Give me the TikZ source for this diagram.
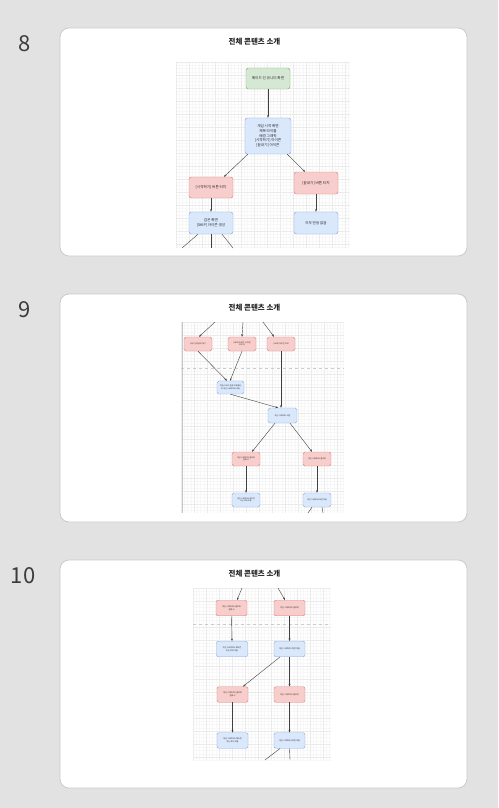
\documentclass[tikz,border=0pt]{standalone}
\usepackage{fontspec}
\setmainfont{Noto Sans CJK KR}
\usetikzlibrary{arrows.meta}
\definecolor{bg}{HTML}{E1E2E1}
\definecolor{cardline}{HTML}{CBCBCB}
\definecolor{gfill}{HTML}{D5E8D4}
\definecolor{gdraw}{HTML}{82B366}
\definecolor{bfill}{HTML}{DAE8FC}
\definecolor{bdraw}{HTML}{8EAEDC}
\definecolor{rfill}{HTML}{F8CECC}
\definecolor{rdraw}{HTML}{D98582}
\definecolor{gmin}{HTML}{F7F7F7}
\definecolor{gmaj}{HTML}{EBEBEB}
\definecolor{numcol}{HTML}{3C3C3C}
\tikzset{
 base/.style={draw, rounded corners=2.5pt, align=center, inner sep=0pt, line width=0.45pt, text=black!85},
 gnode/.style={base, fill=gfill, draw=gdraw},
 bnode/.style={base, fill=bfill, draw=bdraw},
 rnode/.style={base, fill=rfill, draw=rdraw},
 big/.style={minimum width=44pt, minimum height=21pt, font=\fontsize{3.6}{4.6}\selectfont},
 small/.style={minimum width=28pt, minimum height=14pt, font=\fontsize{1.9}{2.5}\selectfont, rounded corners=1.8pt},
 mid/.style={minimum width=31pt, minimum height=15.5pt, font=\fontsize{2}{2.6}\selectfont, rounded corners=2pt},
 arr/.style={-{Stealth[length=2.6pt,width=2pt]}, line width=0.4pt, draw=black!75},
 lnk/.style={line width=0.4pt, draw=black!75},
 card/.style={draw=cardline, fill=white, line width=0.8pt, rounded corners=9pt},
 slidetitle/.style={font=\bfseries\fontsize{7.5}{9}\selectfont, text=black!85, inner sep=0pt},
 slidenum/.style={font=\fontsize{22}{26}\selectfont, text=numcol, inner sep=0pt},
 pagebreak/.style={draw=black!20, dashed, line width=0.3pt},
}
\newcommand{\sgrid}[4]{%
 \begin{scope}
 \clip (#1,#2) rectangle (#3,#4);
 \fill[white] (#1,#2) rectangle (#3,#4);
 \foreach \i in {0,...,62} {
   \draw[gmin, line width=0.3pt] ({#1+\i*3.25},#2) -- ({#1+\i*3.25},#4);
   \draw[gmin, line width=0.3pt] (#1,{#2+\i*3.25}) -- (#3,{#2+\i*3.25});
 }
 \foreach \i in {0,...,16} {
   \draw[gmaj, line width=0.35pt] ({#1+\i*13},#2) -- ({#1+\i*13},#4);
   \draw[gmaj, line width=0.35pt] (#1,{#2+\i*13}) -- (#3,{#2+\i*13});
 }
 \end{scope}}
\begin{document}
\begin{tikzpicture}[x=1pt,y=-1pt]
\useasboundingbox (0,0) rectangle (498,808);
\fill[bg] (0,0) rectangle (498,808);

% ---------- cards ----------
\draw[card] (60,28) rectangle (467,256);
\draw[card] (60,294) rectangle (467,522);
\draw[card] (60,560) rectangle (467,788);

\node[slidenum] (n8) at (25,44) {8};
\node[slidenum] (n9) at (25,310) {9};
\node[slidenum] (n10) at (23,576) {10};

\node[slidetitle] (t8) at (254.5,42) {전체 콘텐츠 소개};
\node[slidetitle] (t9) at (254.5,308) {전체 콘텐츠 소개};
\node[slidetitle] (t10) at (254.5,574) {전체 콘텐츠 소개};

% ---------- slide 8 ----------
\sgrid{176}{62}{350}{248}
\node[gnode, big] (g) at (268,78.5) {메이드 인 유니티 화면};
\node[bnode, big, minimum width=46pt, minimum height=36pt] (s) at (268,136) {게임 시작 화면\\제목 타이틀\\배경 그래픽\\{}[시작하기] 아이콘\\{}[끝내기] 아이콘};
\node[rnode, big] (rl) at (211,187.5) {[시작하기] 버튼 터치};
\node[rnode, big, minimum height=22pt] (rr) at (316,183) {[끝내기] 버튼 터치};
\node[bnode, big, minimum height=22pt] (bl) at (211,223) {검은 화면\\{}[SKIP] 아이콘 생성};
\node[bnode, big, minimum height=22pt] (br) at (316,223) {아무 반응 없음};
\coordinate (e1) at (182,248);
\coordinate (e2) at (211,248);
\coordinate (e3) at (233,248);
\draw[arr] (g.south) -- (s.north);
\draw[arr] ([xshift=3pt]s.south west) -- ([xshift=13pt]rl.north);
\draw[arr] ([xshift=-4pt]s.south east) -- ([xshift=-11pt]rr.north);
\draw[arr] (rl.south) -- (bl.north);
\draw[arr] (rr.south) -- (br.north);
\draw[lnk] ([xshift=-13pt]bl.south) -- (e1);
\draw[lnk] (bl.south) -- (e2);
\draw[lnk] ([xshift=11pt]bl.south) -- (e3);

% ---------- slide 9 ----------
\sgrid{181}{322}{344}{513}
\draw[pagebreak] (181,368) -- (344,368);
\draw[black!22, line width=0.4pt] (182,322) -- (182,513);
\coordinate (t1) at (215,322);
\coordinate (t2) at (243,322);
\coordinate (t3) at (263,322);
\node[rnode, small] (r1) at (198,344) {아무 입력 없이 대기};
\node[rnode, small] (r2) at (242,344) {{}[SKIP] 아이콘 외 화면\\터치 시};
\node[rnode, small] (r3) at (281,344) {{}[SKIP] 아이콘 터치};
\node[bnode, small, minimum width=27pt, minimum height=13pt] (cut) at (230.5,387.5) {컷씬(스토리 연출)이 재생된\\후 게임 스테이지로 이동};
\node[bnode, small, minimum width=29pt, minimum height=15pt] (st1) at (282.5,415.5) {게임 스테이지1 화면};
\node[rnode, small] (f1) at (246,459) {게임 스테이지1 클리어\\실패 시};
\node[rnode, small] (c1) at (317,459) {게임 스테이지1 클리어};
\node[bnode, small] (b1) at (246,500) {게임 스테이지1 재도전\\또는 로비 이동};
\node[bnode, small] (b2) at (317,500) {게임 스테이지2 화면 이동};
\coordinate (u1) at (308,513);
\coordinate (u2) at (323,513);
\draw[arr] (t1) -- ([xshift=1pt]r1.north);
\draw[arr] (t2) -- (r2.north);
\draw[arr] (t3) -- ([xshift=-7pt]r3.north);
\draw[arr] (r1.south) -- ([xshift=-3.5pt]cut.north);
\draw[arr] (r2.south) -- ([xshift=-0.5pt]cut.north);
\draw[arr] (r3.south) -- (r3.south |- st1.north);
\draw[arr] (cut.south) -- ([xshift=-4.5pt]st1.north);
\draw[arr] ([xshift=-7.5pt]st1.south) -- ([xshift=6pt]f1.north);
\draw[arr] ([xshift=7.5pt]st1.south) -- ([xshift=-5pt]c1.north);
\draw[arr] (f1.south) -- (b1.north);
\draw[arr] (c1.south) -- (b2.north);
\draw[lnk] ([xshift=-5pt]b2.south) -- (u1);
\draw[lnk] ([xshift=5pt]b2.south) -- (u2);

% ---------- slide 10 ----------
\sgrid{193}{588}{331}{760}
\draw[pagebreak] (193,624) -- (331,624);
\coordinate (v1) at (242,588);
\coordinate (v2) at (278,588);
\node[rnode, mid] (ra) at (231.5,608) {게임 스테이지2 클리어\\실패 시};
\node[rnode, mid] (rb) at (289.5,608) {게임 스테이지2 클리어};
\node[bnode, mid] (ba) at (232,649) {게임 스테이지2 재도전\\또는 로비 이동};
\node[bnode, mid] (bb) at (289.5,649) {게임 스테이지3 화면 이동};
\node[rnode, mid] (rc) at (232.5,694.5) {게임 스테이지3 클리어\\실패 시};
\node[rnode, mid] (rd) at (289.5,694.5) {게임 스테이지3 클리어};
\node[bnode, mid] (bc) at (232.5,740.5) {게임 스테이지3 재도전\\또는 로비 이동};
\node[bnode, mid] (bd) at (289.5,740.5) {게임 스테이지4 화면 이동};
\coordinate (w1) at (265,760);
\coordinate (w2) at (290,760);
\draw[arr] (v1) -- ([xshift=5.5pt]ra.north);
\draw[arr] (v2) -- ([xshift=-4.5pt]rb.north);
\draw[arr] (ra.south) -- (ba.north);
\draw[arr] (rb.south) -- (bb.north);
\draw[arr] ([xshift=-9.5pt]bb.south) -- ([xshift=10.5pt]rc.north);
\draw[arr] (bb.south) -- (rd.north);
\draw[arr] (rc.south) -- (bc.north);
\draw[arr] (rd.south) -- (bd.north);
\draw[lnk] ([xshift=-9.5pt]bd.south) -- (w1);
\draw[lnk] (bd.south) -- (w2);
\end{tikzpicture}
\end{document}
